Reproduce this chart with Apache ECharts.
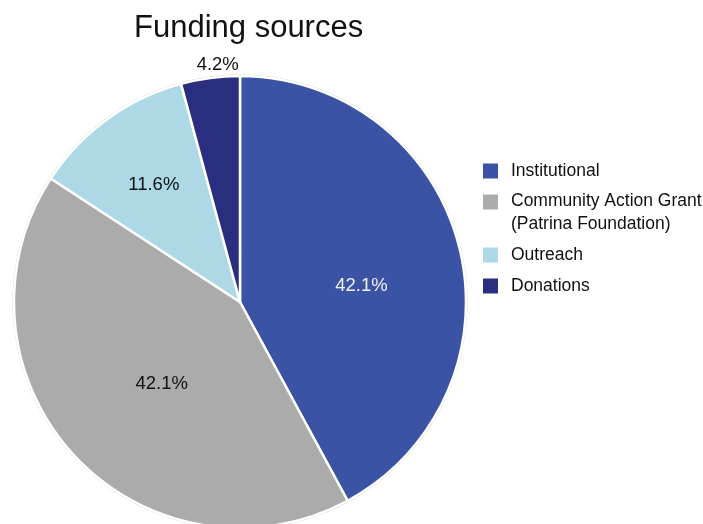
<!DOCTYPE html>
<html>
<head>
<meta charset="utf-8">
<script src="https://cdn.jsdelivr.net/npm/echarts@6/dist/echarts.min.js"></script>
<style>html,body{margin:0;padding:0;background:#fff}#c{width:703px;height:524px}</style>
</head>
<body>
<div id="c"></div>
<script>
const titleText = 'Funding sources';
const categories = ['Institutional', 'Community Action Grant (Patrina Foundation)', 'Outreach', 'Donations'];
const values = [42.1, 42.1, 11.6, 4.2];
const colors = ['#3A53A5', '#ABABAB', '#ADD8E6', '#2A2E7E'];
const labelColors = ['#F2F2F2', '#111111', '#111111', '#111111'];
const labelShift = [[9, 12], [7, 3], [-18, -23], [-7, -122]];

const chart = echarts.init(document.getElementById('c'), null, {renderer: 'canvas'});
const font = 'Liberation Sans, Arial, Helvetica, sans-serif';

const legendFormatter = function (name) {
  if (name === categories[1]) {
    return '{a|Community Action Grant}\n{b|(Patrina Foundation)}';
  }
  return name;
};
const legendBase = {
  orient: 'vertical',
  left: 483,
  padding: 0,
  itemWidth: 15,
  itemHeight: 15,
  icon: 'rect',
  selectedMode: false,
  itemStyle: {borderWidth: 0},
  formatter: legendFormatter,
  textStyle: {
    fontFamily: font, fontSize: 17.5, color: '#111', lineHeight: 22,
    padding: [0, 0, 0, 8],
    rich: {
      a: {fontFamily: font, fontSize: 17.5, color: '#111', lineHeight: 22},
      b: {fontFamily: font, fontSize: 17.5, color: '#111', lineHeight: 2, verticalAlign: 'top', padding: [3, 0, 0, 0]}
    }
  }
};

chart.setOption({
  animation: false,
  title: {
    text: titleText,
    left: 134,
    top: 13,
    padding: 0,
    textStyle: {fontFamily: font, fontSize: 31, fontWeight: 'normal', color: '#111'}
  },
  legend: [
    Object.assign({}, legendBase, {top: 160, itemGap: 8, data: categories.slice(0, 2)}),
    Object.assign({}, legendBase, {top: 244, itemGap: 9, data: categories.slice(2)})
  ],
  series: [
    {
      type: 'pie',
      silent: true,
      z: 1,
      center: [240, 302],
      radius: 227.5,
      label: {show: false},
      labelLine: {show: false},
      itemStyle: {color: '#D6D6D6'},
      data: [{name: '', value: 1}]
    },
    {
      type: 'pie',
      z: 2,
      center: [240, 302],
      radius: 226,
      startAngle: 90,
      clockwise: true,
      avoidLabelOverlap: false,
      itemStyle: {borderColor: '#ffffff', borderWidth: 2.5},
      label: {
        show: true,
        position: 'inside',
        fontFamily: font,
        fontSize: 18.5,
        formatter: function (p) { return p.value.toFixed(1) + '%'; }
      },
      labelLine: {show: false},
      labelLayout: function (p) {
        const s = labelShift[p.dataIndex];
        return {dx: s[0], dy: s[1]};
      },
      emphasis: {disabled: true},
      data: categories.map(function (name, i) {
        return {
          name: name,
          value: values[i],
          itemStyle: {color: colors[i]},
          label: {color: labelColors[i]}
        };
      })
    }
  ]
});
</script>
</body>
</html>
